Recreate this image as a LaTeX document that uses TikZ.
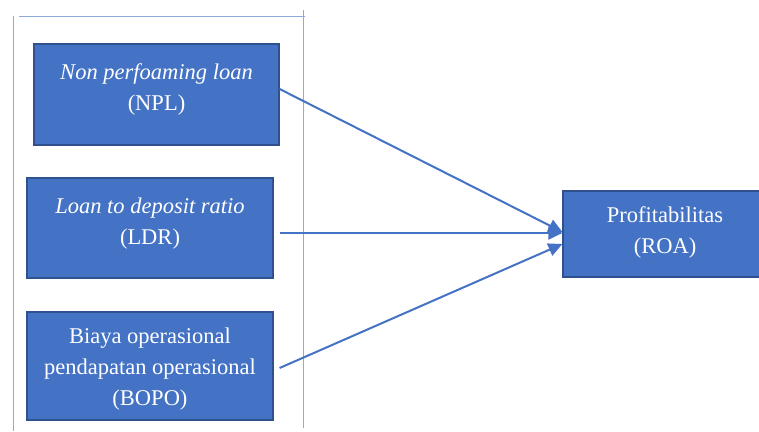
\documentclass[tikz,border=0pt]{standalone}
\usepackage{fontspec}
\setmainfont{Liberation Serif}
\usetikzlibrary{arrows.meta,calc}
\definecolor{boxfill}{HTML}{4472C4}
\definecolor{boxedge}{HTML}{2F528F}
\definecolor{framec}{HTML}{8EA9DB}
\newcommand{\topst}[1]{\rule{0pt}{#1pt}}
\newcommand{\botst}[1]{\rule[-#1pt]{0pt}{0pt}}
\begin{document}
\begin{tikzpicture}[x=1pt,y=-1pt,
  varbox/.style={draw=boxedge,line width=1.2pt,fill=boxfill,text=white,align=center,
    inner sep=0pt,font=\fontsize{22.5}{31}\selectfont},
  frameline/.style={draw=framec,line width=1pt},
  link/.style={draw=boxfill,line width=2pt,-{Triangle[length=14pt,width=13pt]}}]
\useasboundingbox (0,0) rectangle (759,431);
\fill[white] (0,0) rectangle (759,431);
% frame lines
\draw[frameline] (13,16) -- (13,431);
\draw[frameline] (19,16) -- (305,16);
\draw[frameline] (303,10) -- (303,428);
% boxes
\node[varbox,minimum width=245pt,minimum height=101pt] (npl) at (156.5,94.5)
  {\topst{16}\textit{Non perfoaming loan}\\(NPL)\botst{16}};
\node[varbox,minimum width=246pt,minimum height=100pt] (ldr) at (150,228)
  {\topst{16}\textit{Loan to deposit ratio}\\(LDR)\botst{15}};
\node[varbox,minimum width=246pt,minimum height=108pt] (bopo) at (150,366)
  {\topst{21}Biaya operasional\\pendapatan operasional\\(BOPO)};
\node[varbox,minimum width=204pt,minimum height=86pt] (roa) at (665,234)
  {\topst{21}Profitabilitas\\(ROA)\botst{13}};
% connectors
\draw[link] ($(npl.east)+(0,-5.5)$) -- ($(roa.west)+(0,-2)$);
\draw[link] ($(ldr.east)+(6,5)$) -- ($(roa.west)+(0,-1)$);
\draw[link] ($(bopo.east)+(6,2)$) -- ($(roa.west)+(0,10)$);
\end{tikzpicture}
\end{document}
